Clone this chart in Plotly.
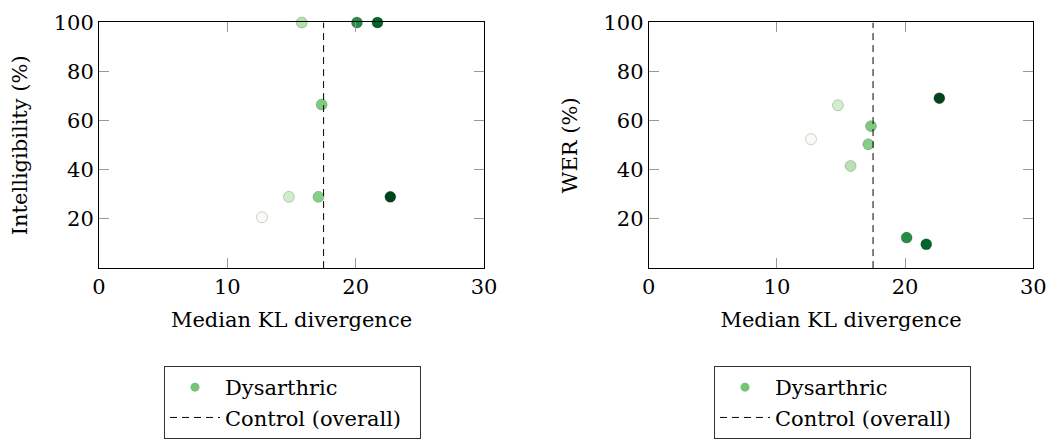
import plotly.graph_objects as go

# Data
kl_left = [15.8, 20.1, 21.7, 17.35, 14.8, 17.1, 22.7, 12.7]
intelligibility = [100, 100, 100, 66.6, 29.0, 29.0, 29.0, 20.7]

kl_right = [12.66, 14.76, 15.75, 17.13, 17.34, 20.12, 21.65, 22.67]
wer = [52.5, 66.3, 41.6, 50.4, 57.8, 12.4, 9.7, 69.2]

control_kl = 17.5
x_ticks = [0, 10, 20, 30]
y_ticks = [20, 40, 60, 80, 100]

greens = [[0.0, "#f7fcf5"], [0.125, "#e5f5e0"], [0.25, "#c7e9c0"], [0.375, "#a1d99b"],
          [0.5, "#74c476"], [0.625, "#41ab5d"], [0.75, "#238b45"], [0.875, "#006d2c"],
          [1.0, "#00441b"]]
cmin = min(kl_left + kl_right)
cmax = max(kl_left + kl_right)

FONT = "DejaVu Serif"
fig = go.Figure()

def add_panel(xs, ys, xa, ya, legend):
    fig.add_trace(go.Scatter(
        x=xs, y=ys, mode="markers", xaxis=xa, yaxis=ya, showlegend=False,
        marker=dict(size=11, color=xs, colorscale=greens, cmin=cmin, cmax=cmax,
                    line=dict(color="rgba(0,0,0,0.18)", width=1)),
        cliponaxis=False))
    fig.add_trace(go.Scatter(
        x=[None], y=[None], mode="markers", xaxis=xa, yaxis=ya, name="Dysarthric",
        legend=legend, legendgroup="a",
        marker=dict(size=9, color="#74c476")))
    fig.add_trace(go.Scatter(
        x=[control_kl, control_kl], y=[0, 100], mode="lines", xaxis=xa, yaxis=ya,
        name="Control (overall)\u00a0\u00a0", legend=legend, legendgroup="b",
        line=dict(color="black", width=1, dash="7px,5px")))

add_panel(kl_left, intelligibility, "x", "y", "legend")
add_panel(kl_right, wer, "x2", "y2", "legend2")

axis_common = dict(showline=True, linecolor="black", linewidth=1, mirror="allticks",
                   ticks="inside", tickcolor="#999999", ticklen=10, tickwidth=1,
                   showgrid=False, zeroline=False, automargin=False,
                   ticklabeloverflow="allow",
                   tickfont=dict(family=FONT, size=21, color="black"))

ydom = [1 - 269.3 / 439, 1 - 22.6 / 439]
title_font = dict(family=FONT, size=21)
leg_common = dict(xanchor="left", yanchor="top", itemwidth=50,
                  bordercolor="#333333", borderwidth=1, bgcolor="white",
                  font=dict(family=FONT, size=21), traceorder="grouped", tracegroupgap=0)
leg_y = 71 / 439
fig.update_layout(
    width=1046, height=439, margin=dict(l=0, r=0, t=0, b=0),
    plot_bgcolor="white", paper_bgcolor="white",
    font=dict(family=FONT, color="black"),
    xaxis=dict(domain=[99 / 1046, 484 / 1046], range=[0, 30], tickvals=x_ticks,
               title=dict(text="Median KL divergence", font=title_font, standoff=14),
               anchor="y", **axis_common),
    yaxis=dict(domain=ydom, range=[0, 100], tickvals=y_ticks,
               title=dict(text="Intelligibility (%)", font=title_font, standoff=20),
               anchor="x", **axis_common),
    xaxis2=dict(domain=[648.7 / 1046, 1033.3 / 1046], range=[0, 30], tickvals=x_ticks,
                title=dict(text="Median KL divergence", font=title_font, standoff=14),
                anchor="y2", **axis_common),
    yaxis2=dict(domain=ydom, range=[0, 100], tickvals=y_ticks,
                title=dict(text="WER (%)", font=title_font, standoff=20),
                anchor="x2", **axis_common),
    legend=dict(x=164 / 1046, y=leg_y, **leg_common),
    legend2=dict(x=714 / 1046, y=leg_y, **leg_common),
)

fig.write_html("out.html")
